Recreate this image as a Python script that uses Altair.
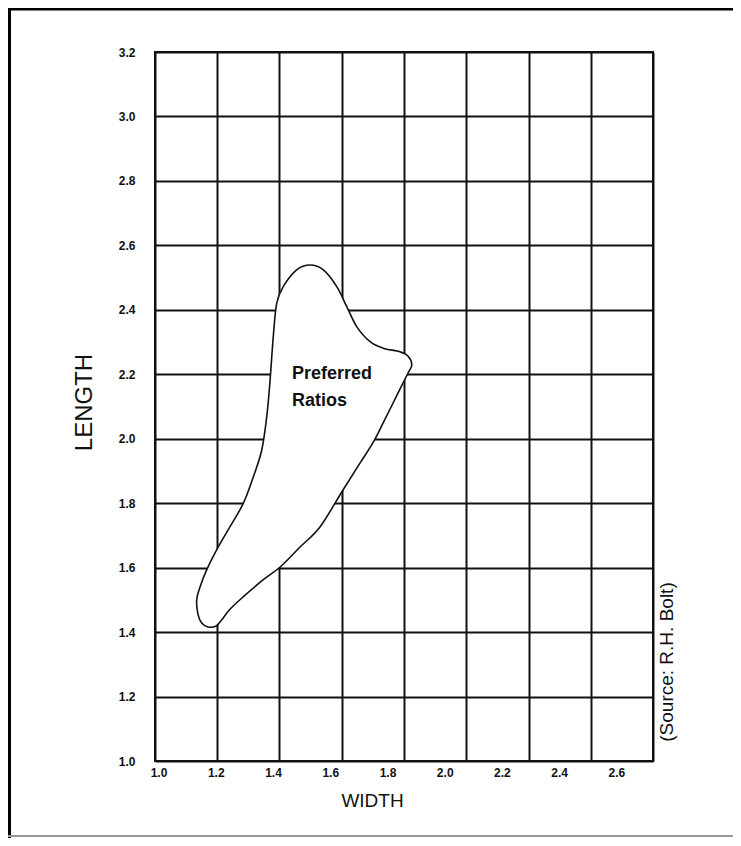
import altair as alt
import pandas as pd

# ---- data ----
x_ticks = [1.0, 1.2, 1.4, 1.6, 1.8, 2.0, 2.2, 2.4, 2.6]
y_ticks = [1.0, 1.2, 1.4, 1.6, 1.8, 2.0, 2.2, 2.4, 2.6, 2.8, 3.0, 3.2]

# outline of the "Preferred Ratios" region (width, length), clockwise from the peak
region_width = [1.498, 1.541, 1.584, 1.616, 1.648, 1.691, 1.733, 1.787, 1.814, 1.825,
                1.813, 1.781, 1.733, 1.700, 1.659, 1.604, 1.530, 1.466, 1.402, 1.347,
                1.283, 1.240, 1.212, 1.195, 1.170,
                1.150, 1.138, 1.134, 1.145, 1.166, 1.198, 1.241, 1.284, 1.316, 1.343,
                1.359, 1.369, 1.380, 1.391, 1.412, 1.455]
region_length = [2.539, 2.524, 2.472, 2.410, 2.348, 2.301, 2.281, 2.270, 2.255, 2.229,
                 2.204, 2.142, 2.049, 1.987, 1.925, 1.841, 1.726, 1.664, 1.602, 1.562,
                 1.509, 1.470, 1.435, 1.418, 1.416,
                 1.428, 1.456, 1.500, 1.541, 1.593, 1.655, 1.727, 1.800, 1.882, 1.965,
                 2.068, 2.172, 2.317, 2.420, 2.472, 2.524]

region_label = "Preferred\nRatios"
region_label_pos = (1.44, 2.185)
x_title = "WIDTH"
y_title = "LENGTH"
source_text = "(Source: R.H. Bolt)"

FONT = "Liberation Sans"
INK = "#111111"
W, H = 498, 709

# ---- encodings ----
y_enc = alt.Y(
    "length:Q",
    scale=alt.Scale(domain=[1.0, 3.2], nice=False, zero=False),
    axis=alt.Axis(
        values=y_ticks, format=".1f", grid=True, gridColor=INK, gridWidth=2,
        gridOpacity=1, ticks=False, domain=False, labelFlush=False,
        labelOverlap=False, labelFont=FONT, labelFontSize=12,
        labelFontWeight="bold", labelColor=INK, labelPadding=20,
        title=y_title, titleFont=FONT, titleFontSize=24,
        titleFontWeight="normal", titleColor=INK, titleAngle=270,
        titleX=-71, titleY=350, titleAlign="center", titleBaseline="middle",
    ),
)

x_enc = alt.X(
    "width:Q",
    scale=alt.Scale(domain=[1.0, 2.6], nice=False, zero=False),
    axis=alt.Axis(
        values=x_ticks, grid=True, gridColor=INK, gridWidth=2, gridOpacity=1,
        labels=False, ticks=False, domain=False,
        title=x_title, titleFont=FONT, titleFontSize=19,
        titleFontWeight="normal", titleColor=INK,
        titleX=217, titleY=39, titleAlign="center", titleBaseline="middle",
    ),
)

shape_df = pd.DataFrame({
    "i": list(range(len(region_width))),
    "width": region_width,
    "length": region_length,
})

shape = alt.Chart(shape_df).mark_line(
    fill="white", stroke=INK, strokeWidth=1.6, interpolate="cardinal-closed"
).encode(x=x_enc, y=y_enc, order=alt.Order("i:Q"))

label_df = pd.DataFrame({
    "width": [region_label_pos[0]],
    "length": [region_label_pos[1]],
    "t": [region_label],
})
region_text = alt.Chart(label_df).mark_text(
    align="left", baseline="alphabetic", font=FONT, fontSize=18,
    fontWeight="bold", color=INK, lineBreak="\n", lineHeight=27,
).encode(x=x_enc, y=y_enc, text="t:N")

inner = alt.layer(shape, region_text)

# x tick labels (drawn slightly compressed, as in the original scan)
xl_df = pd.DataFrame({"v": x_ticks, "length": [1.0] * len(x_ticks)})
x_labels = alt.Chart(xl_df).mark_text(
    align="center", baseline="middle", dy=12, font=FONT, fontSize=12,
    fontWeight="bold", color=INK,
).encode(
    x=alt.X("v:Q", scale=alt.Scale(domain=[0.986, 2.726], nice=False, zero=False), axis=None),
    y=y_enc,
    text=alt.Text("v:Q", format=".1f"),
)

src = alt.Chart(pd.DataFrame({"t": [source_text]})).mark_text(
    angle=270, align="center", baseline="middle", font=FONT, fontSize=19,
    color=INK,
).encode(x=alt.value(512), y=alt.value(610), text="t:N")

one = alt.Data(values=[{"a": 1}])
frame_left = alt.Chart(one).mark_rule(color="black", strokeWidth=4).encode(
    x=alt.value(-146), y=alt.value(-44), y2=alt.value(786))
frame_top = alt.Chart(one).mark_rule(color="black", strokeWidth=4).encode(
    x=alt.value(-147), x2=alt.value(578), y=alt.value(-43.5))
frame_bottom = alt.Chart(one).mark_rule(color="#999999", strokeWidth=2).encode(
    x=alt.value(-147), x2=alt.value(578), y=alt.value(784))

chart = alt.layer(
    frame_left, frame_top, frame_bottom, inner, x_labels, src
).resolve_scale(x="independent").properties(
    width=W, height=H,
    autosize=alt.AutoSizeParams(type="none"),
    padding={"left": 147, "top": 44, "right": 80, "bottom": 77},
    background="white",
).configure_view(stroke=INK, strokeWidth=2)

chart.save("out.html", embed_options={"renderer": "svg", "actions": False})
